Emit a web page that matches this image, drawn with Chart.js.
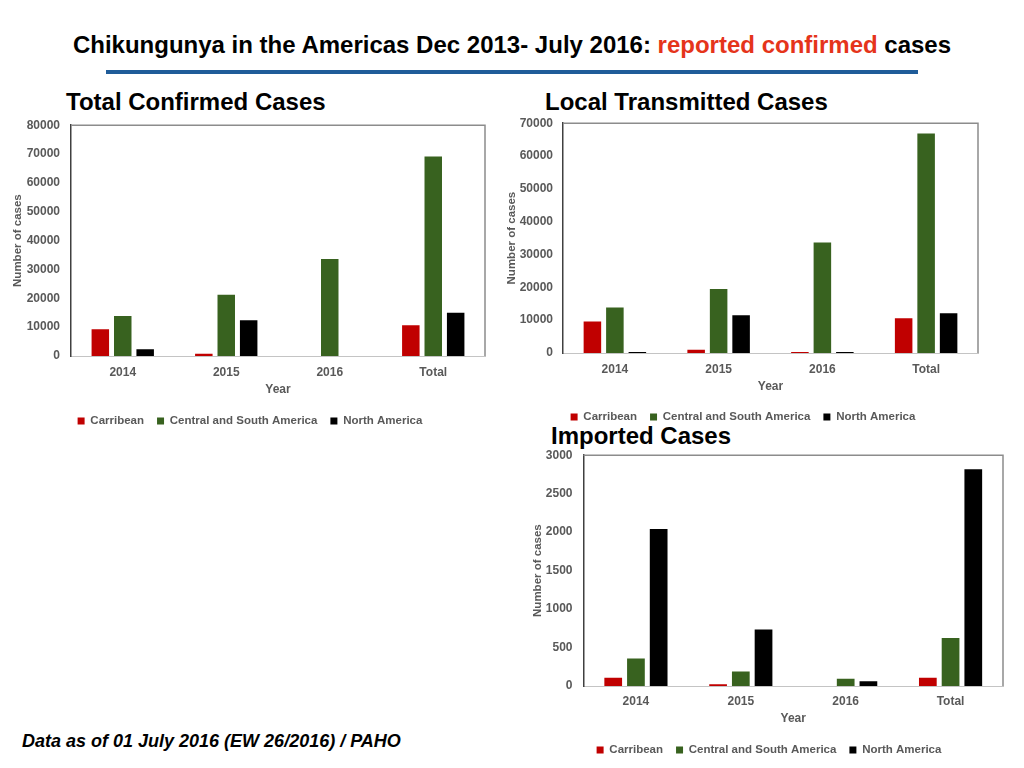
<!DOCTYPE html>
<html><head><meta charset="utf-8">
<script src="https://cdn.jsdelivr.net/npm/chart.js@4.4.1/dist/chart.umd.min.js"></script>
<style>
html,body{margin:0;padding:0;background:#fff;}
body{width:1024px;height:768px;position:relative;overflow:hidden;font-family:'Liberation Sans',Arial,Helvetica,sans-serif;}
.t{position:absolute;white-space:nowrap;font-weight:bold;color:#000;}
.cw{position:absolute;}
.cw canvas{display:block;}
</style></head><body>
<div class="t" style="left:0;width:1024px;text-align:center;top:32.7px;font-size:24px;line-height:24px;">Chikungunya in the Americas Dec 2013- July 2016: <span style="color:#e5341b">reported confirmed</span> cases</div>
<div style="position:absolute;left:106px;top:70px;width:812px;height:4px;background:#1f5c99"></div>
<div class="t" style="left:66px;top:90.4px;font-size:24px;line-height:24px;">Total Confirmed Cases</div>
<div class="t" style="left:545px;top:90.4px;font-size:24px;line-height:24px;">Local Transmitted Cases</div>
<div class="t" style="left:551px;top:423.7px;font-size:24px;line-height:24px;">Imported Cases</div>
<div class="t" style="left:22px;top:731.5px;font-size:18px;line-height:18px;font-style:italic;">Data as of 01 July 2016 (EW 26/2016) / PAHO</div>

<div class="cw" style="left:0px;top:107px;width:500px;height:332px;"><canvas id="c1" width="500" height="332"></canvas></div>
<div class="cw" style="left:500px;top:106px;width:486px;height:330px;"><canvas id="c2" width="486" height="330"></canvas></div>
<div class="cw" style="left:520px;top:437px;width:498px;height:331px;"><canvas id="c3" width="498" height="331"></canvas></div>

<script>
// ---- data ----
const categories = ['2014', '2015', '2016', 'Total'];
const seriesNames = ['Carribean', 'Central and South America', 'North America'];

// Total confirmed cases
const totalCarribean = [9250, 810, 0, 10640];
const totalCentralSouth = [13870, 21270, 33640, 69130];
const totalNorth = [2310, 12370, 0, 15030];

// Local transmitted cases
const localCarribean = [9580, 1000, 300, 10600];
const localCentralSouth = [13860, 19470, 33640, 66870];
const localNorth = [300, 11520, 300, 12130];

// Imported cases
const importedCarribean = [108, 22, 0, 108];
const importedCentralSouth = [356, 187, 95, 625];
const importedNorth = [2040, 733, 61, 2817];

// y-axis ticks
const totalTicks = {max: 80000, step: 10000};
const localTicks = {max: 70000, step: 10000};
const importedTicks = {max: 3000, step: 500};

const seriesColors = ['#c00000', '#38621f', '#000000'];

Chart.defaults.font.family = "'Liberation Sans', Arial, Helvetica, sans-serif";
Chart.defaults.font.weight = 'bold';
Chart.defaults.font.size = 12;
Chart.defaults.color = '#595959';

const framePlugin = {
  id: 'frame',
  afterDatasetsDraw(chart) {
    const a = chart.chartArea, ctx = chart.ctx;
    ctx.save();
    ctx.strokeStyle = '#8c8c8c';
    ctx.lineWidth = 1.5;
    ctx.beginPath();
    ctx.moveTo(a.left, a.top);
    ctx.lineTo(a.right, a.top);
    ctx.lineTo(a.right, a.bottom);
    ctx.stroke();
    ctx.restore();
  }
};

function makeChart(id, series, ticks, g) {
  new Chart(document.getElementById(id), {
    type: 'bar',
    data: {
      labels: categories,
      datasets: series.map((d, i) => ({
        label: seriesNames[i],
        data: d,
        backgroundColor: seriesColors[i],
        borderWidth: 0,
        categoryPercentage: 0.65,
        barPercentage: 0.78
      }))
    },
    options: {
      responsive: false,
      animation: false,
      devicePixelRatio: 1,
      layout: {padding: {left: g.pl, right: g.pr, top: 5, bottom: g.pb}},
      plugins: {
        legend: {
          position: 'bottom',
          labels: {boxWidth: 7, boxHeight: 7, padding: 13, color: '#595959', font: {size: 11.5, weight: 'bold'}}
        },
        tooltip: {enabled: false},
        title: {display: false}
      },
      scales: {
        x: {
          grid: {display: false, drawTicks: false},
          border: {display: true, color: '#c4c4c4', width: 1},
          ticks: {padding: g.xtp, color: '#595959', font: {size: 12, weight: 'bold'}},
          title: {display: true, text: 'Year', color: '#595959', font: {size: 12, weight: 'bold'}, padding: {top: 0, bottom: g.xtb}},
          afterFit(s) { s.height = g.xh; }
        },
        y: {
          min: 0,
          max: ticks.max,
          grid: {display: false, drawTicks: false},
          border: {display: true, color: '#404040', width: 1.5},
          ticks: {stepSize: ticks.step, padding: g.ytp, color: '#595959', font: {size: 12, weight: 'bold'},
                  callback: v => String(v)},
          title: {display: true, text: 'Number of cases', color: '#595959', font: {size: 11.5, weight: 'bold'}, padding: {top: g.ytt, bottom: 0}},
          afterFit(s) { s.width = g.yw; }
        }
      }
    },
    plugins: [framePlugin]
  });
}

makeChart('c1', [totalCarribean, totalCentralSouth, totalNorth], totalTicks,
  {pl: 15, pr: 15, pb: 2.25, xh: 46.25, xtp: 9.3, xtb: 5.55, yw: 56, ytp: 11, ytt: -3.9});
makeChart('c2', [localCarribean, localCentralSouth, localNorth], localTicks,
  {pl: 8, pr: 8, pb: 3.25, xh: 45.25, xtp: 9.3, xtb: 4.55, yw: 55, ytp: 10, ytt: -3.5});
makeChart('c3', [importedCarribean, importedCentralSouth, importedNorth], importedTicks,
  {pl: 15, pr: 15, pb: 2.25, xh: 45.25, xtp: 8.3, xtb: 5.55, yw: 48.5, ytp: 11, ytt: -4.2});
</script>
</body></html>
